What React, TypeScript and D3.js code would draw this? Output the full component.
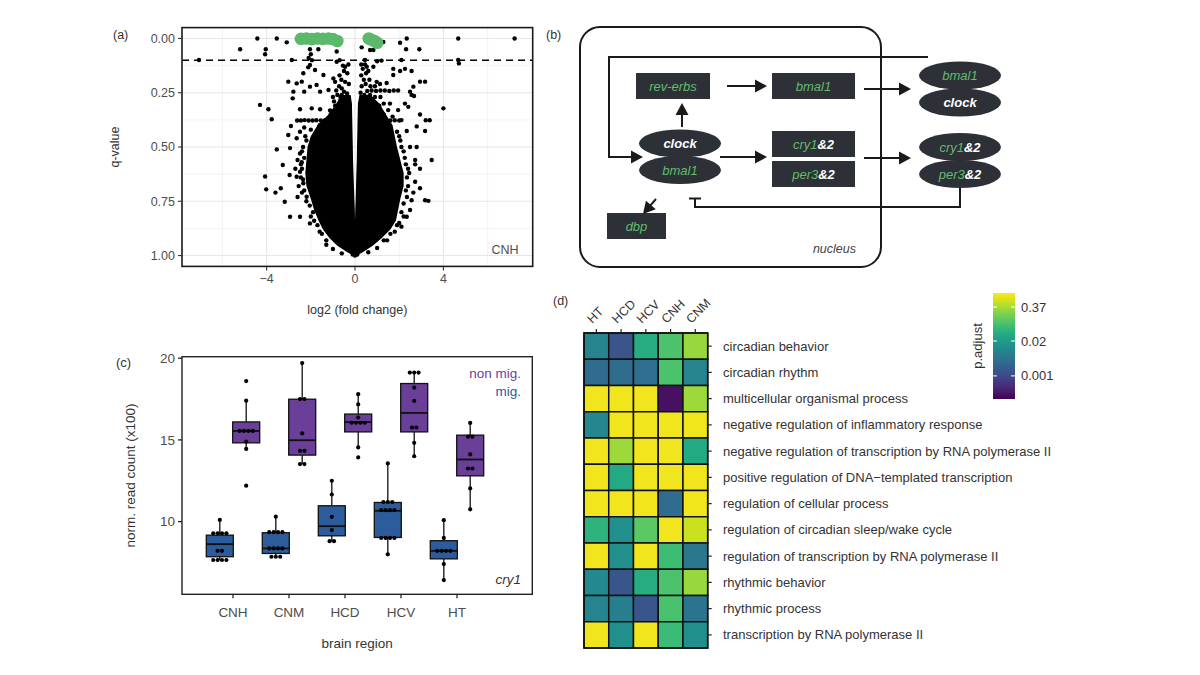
import React from 'react';
import * as d3 from 'd3';

const FONT = '"Liberation Sans", Arial, Helvetica, sans-serif';
const DARK = '#2d3037';
const GREEN_TXT = '#63bb6d';

// ---------------- Panel (a): volcano ----------------
const volcanoXMajor = [-4, 0, 4];
const volcanoXMinor = [-6, -2, 2, 6];
const volcanoYMajor = [0, 0.25, 0.5, 0.75, 1];
const volcanoYMinor = [0.125, 0.375, 0.625, 0.875];
const qThreshold = 0.1;

// significant genes (log2FC, q)
const sigGenes: [number, number][] = [
  [-2.45, 0.002], [-2.2, 0.0], [-1.95, 0.003], [-1.7, 0.0], [-1.45, 0.002], [-1.2, 0.0],
  [-1.0, 0.003], [-0.8, 0.012], [0.62, 0.0], [0.75, 0.006], [0.88, 0.012], [1.0, 0.02],
];

// scattered genes (log2FC, q)
const otherGenes: [number, number][] = [
  [-7.06, 0.099], [-5.2, 0.05], [-4.42, 0.0], [-4.04, 0.05], [-4.07, 0.073], [-3.54, 0.0], [-3.09, 0.018], [-2.86, 0.099],
  [-2.04, 0.05], [-2.0, 0.073], [-1.66, 0.05], [-0.83, 0.06], [-2.1, 0.09], [-2.04, 0.122], [-2.12, 0.133], [-2.34, 0.16],
  [-1.81, 0.145], [-1.43, 0.168], [-0.98, 0.184], [-0.45, 0.13], [-0.83, 0.107], [-1.95, 0.1], [-0.7, 0.1],
  [-3.02, 0.199], [-2.64, 0.207], [-2.41, 0.199], [-2.79, 0.245], [-2.82, 0.276], [-2.3, 0.245], [-2.04, 0.222],
  [-1.74, 0.214], [-1.58, 0.245], [-1.2, 0.237], [-0.66, 0.268], [-0.36, 0.253],
  [-2.49, 0.326], [-1.96, 0.322], [-1.58, 0.326], [-1.13, 0.332], [-0.8, 0.326],
  [-4.3, 0.306], [-3.92, 0.326], [-3.77, 0.372], [-2.9, 0.403], [-3.02, 0.445], [-2.49, 0.43], [-3.54, 0.511],
  [-3.27, 0.583], [-2.96, 0.629], [-4.07, 0.636], [-4.02, 0.695], [-3.6, 0.71], [-3.36, 0.69], [-3.18, 0.752],
  [-2.94, 0.505], [-2.64, 0.46], [-2.49, 0.53], [-2.41, 0.57], [-2.49, 0.614], [-2.64, 0.637], [-2.34, 0.667],
  [-2.19, 0.729], [-2.94, 0.821], [-2.49, 0.821], [-2.04, 0.852],
  [-2.62, 0.378], [-2.45, 0.378], [-2.28, 0.376], [-2.1, 0.378], [-1.92, 0.378], [-1.75, 0.377], [-1.55, 0.378],
  [-1.38, 0.378], [-1.2, 0.376], [-1.02, 0.378],
  [-2.3, 0.41], [-2.0, 0.42], [-1.8, 0.44], [-2.2, 0.47], [-2.35, 0.5], [-2.3, 0.55], [-2.4, 0.6], [-2.35, 0.65],
  [-2.3, 0.7], [-2.05, 0.77], [-1.9, 0.8], [-1.7, 0.86], [-1.5, 0.9], [-1.3, 0.93], [-2.6, 0.56], [-2.7, 0.6],
  [-2.55, 0.68], [-2.6, 0.73], [-1.6, 0.4], [-1.35, 0.42],
  [-2.25, 0.45], [-2.4, 0.52], [-2.45, 0.58], [-2.45, 0.64], [-2.4, 0.71], [-2.2, 0.75], [-2.0, 0.82], [-1.85, 0.84],
  [-1.6, 0.89], [-1.3, 0.95], [-1.0, 0.97], [-0.6, 0.99],
  [0.3, 0.041], [0.68, 0.053], [0.83, 0.053], [1.28, 0.016], [2.04, 0.02], [2.34, 0.0], [2.31, 0.05], [2.91, 0.05],
  [4.67, 0.0], [4.67, 0.099], [4.7, 0.115], [7.22, 0.0], [0.45, 0.099], [1.2, 0.102], [2.1, 0.099], [0.53, 0.13],
  [0.83, 0.13], [1.73, 0.14], [2.04, 0.15], [2.26, 0.14], [2.56, 0.15], [1.73, 0.168], [1.0, 0.105],
  [2.94, 0.199], [3.17, 0.199], [2.64, 0.222], [2.49, 0.245], [2.56, 0.26], [2.67, 0.265], [0.98, 0.2], [1.13, 0.21],
  [1.43, 0.205],
  [0.55, 0.242], [0.75, 0.24], [0.95, 0.242], [1.15, 0.24], [1.35, 0.24], [1.55, 0.242], [1.75, 0.24], [1.95, 0.24],
  [4.0, 0.322], [2.94, 0.35], [3.2, 0.377], [3.38, 0.377], [2.79, 0.405], [3.17, 0.426], [3.47, 0.56], [2.94, 0.6],
  [2.72, 0.58], [2.72, 0.66], [2.94, 0.69], [3.17, 0.745], [3.32, 0.748], [2.56, 0.745], [2.64, 0.71], [2.49, 0.79],
  [2.34, 0.821], [2.1, 0.867], [2.72, 0.56], [2.49, 0.5], [2.79, 0.5], [2.34, 0.426], [2.1, 0.376], [1.95, 0.33],
  [1.58, 0.3], [2.26, 0.3], [2.41, 0.315],
  [0.6, 0.378], [0.8, 0.378], [1.0, 0.376], [1.2, 0.378], [1.4, 0.378], [1.6, 0.378], [1.8, 0.377], [2.0, 0.378],
  [1.9, 0.43], [2.05, 0.47], [2.2, 0.52], [2.3, 0.58], [2.35, 0.64], [2.3, 0.7], [2.2, 0.76], [2.1, 0.8], [1.9, 0.86],
  [1.6, 0.9], [1.3, 0.93], [2.45, 0.62], [2.4, 0.68], [1.5, 0.33], [1.7, 0.36], [1.3, 0.3],
  [2.0, 0.45], [2.1, 0.5], [2.25, 0.55], [2.4, 0.6], [2.35, 0.73], [2.2, 0.82], [2.0, 0.85], [1.8, 0.89], [1.45, 0.93],
  [1.0, 0.965], [0.6, 0.985],
  [-0.5, 0.15], [-0.7, 0.17], [-0.9, 0.2], [-0.45, 0.2], [-0.6, 0.23], [-0.8, 0.26], [-0.35, 0.27], [-0.55, 0.3],
  [-0.75, 0.32], [-0.95, 0.29], [-0.4, 0.33], [-1.1, 0.35], [0.35, 0.14], [0.5, 0.16], [0.4, 0.19], [0.65, 0.19],
  [0.3, 0.22], [0.55, 0.27], [0.8, 0.29], [0.35, 0.3], [0.6, 0.33], [1.0, 0.33], [1.3, 0.35],
  [-0.3, 0.12], [-0.55, 0.125], [-0.35, 0.16], [-0.62, 0.19], [-0.28, 0.21], [-0.5, 0.245], [-0.72, 0.22],
  [-0.85, 0.24], [-0.3, 0.3], [-0.65, 0.28], [-0.9, 0.31], [-0.5, 0.34], [-0.28, 0.36], [-0.7, 0.36], [-1.0, 0.27],
  [-0.42, 0.28], [-0.6, 0.26],
  [0.28, 0.12], [0.45, 0.12], [0.6, 0.15], [0.28, 0.17], [0.48, 0.21], [0.7, 0.22], [0.25, 0.25], [0.42, 0.26],
  [0.68, 0.26], [0.9, 0.27], [0.3, 0.28], [0.5, 0.3], [0.7, 0.31], [0.85, 0.33], [1.1, 0.31], [0.28, 0.33],
  [0.45, 0.35], [1.15, 0.27], [0.9, 0.22],
  [0, 1.0], [-0.1, 0.995], [0.1, 0.995],
];

// envelope of the dense (overplotted) core: q, outer left, gap left, gap right, outer right
const coreQ = [0.26, 0.3, 0.35, 0.4, 0.45, 0.5, 0.56, 0.62, 0.68, 0.74, 0.79, 0.84, 0.88, 0.92, 0.955, 0.985, 1.0];
const coreLeft = [-0.6, -0.85, -1.2, -1.7, -2.0, -2.15, -2.2, -2.25, -2.2, -2.0, -1.85, -1.65, -1.45, -1.15, -0.8, -0.35, -0.08];
const coreGapLeft = [-0.2, -0.14, -0.13, -0.12, -0.11, -0.1, -0.09, -0.07, -0.05, -0.03, -0.01, 0, 0, 0, 0, 0, 0];
const coreGapRight = [0.2, 0.13, 0.12, 0.11, 0.1, 0.09, 0.08, 0.06, 0.045, 0.03, 0.01, 0, 0, 0, 0, 0, 0];
const coreRight = [0.7, 1.1, 1.4, 1.7, 1.8, 1.9, 2.05, 2.2, 2.2, 2.05, 1.95, 1.85, 1.6, 1.2, 0.8, 0.35, 0.08];

function Volcano() {
  const L = 182, R = 532.7, T = 27.6, B = 266.4;
  const x = d3.scaleLinear().domain([-7.83, 8.04]).range([L, R]);
  const y = d3.scaleLinear().domain([-0.05, 1.05]).range([T, B]);
  const idx = d3.range(coreQ.length);
  const leftArea = d3.area<number>().y(i => y(coreQ[i])).x0(i => x(coreLeft[i])).x1(i => x(coreGapLeft[i])).curve(d3.curveLinear);
  const rightArea = d3.area<number>().y(i => y(coreQ[i])).x0(i => x(coreGapRight[i])).x1(i => x(coreRight[i])).curve(d3.curveLinear);
  return (
    <g fontFamily={FONT}>
      <text x={113} y={39} fontSize={12.5} fill="#333">(a)</text>
      <clipPath id="clipA"><rect x={L} y={T} width={R - L} height={B - T} /></clipPath>
      {volcanoXMinor.map(v => <line key={'xm' + v} x1={x(v)} x2={x(v)} y1={T} y2={B} stroke="#ececec" strokeWidth={0.6} />)}
      {volcanoYMinor.map(v => <line key={'ym' + v} x1={L} x2={R} y1={y(v)} y2={y(v)} stroke="#ececec" strokeWidth={0.6} />)}
      {volcanoXMajor.map(v => <line key={'xM' + v} x1={x(v)} x2={x(v)} y1={T} y2={B} stroke="#e6e6e6" strokeWidth={1.1} />)}
      {volcanoYMajor.map(v => <line key={'yM' + v} x1={L} x2={R} y1={y(v)} y2={y(v)} stroke="#e6e6e6" strokeWidth={1.1} />)}
      <g clipPath="url(#clipA)">
        <path d={leftArea(idx) || ''} fill="#000" />
        <path d={rightArea(idx) || ''} fill="#000" />
        {otherGenes.map((d, i) => <circle key={i} cx={x(d[0])} cy={y(d[1])} r={2.2} fill="#000" />)}
        <line x1={L} x2={R} y1={y(qThreshold)} y2={y(qThreshold)} stroke="#000" strokeWidth={1.5} strokeDasharray="7,5" />
        {sigGenes.map((d, i) => <circle key={'g' + i} cx={x(d[0])} cy={y(d[1])} r={6.3} fill="#5cb96b" />)}
      </g>
      <rect x={L} y={T} width={R - L} height={B - T} fill="none" stroke="#1a1a1a" strokeWidth={1.6} />
      {volcanoXMajor.map(v => (
        <g key={'xt' + v}>
          <line x1={x(v)} x2={x(v)} y1={B} y2={B + 4} stroke="#333" strokeWidth={1.1} />
          <text x={x(v)} y={B + 17} textAnchor="middle" fontSize={12.5} fill="#4d4d4d">{v < 0 ? '\u2212' + Math.abs(v) : v}</text>
        </g>
      ))}
      {volcanoYMajor.map(v => (
        <g key={'yt' + v}>
          <line x1={L - 4} x2={L} y1={y(v)} y2={y(v)} stroke="#333" strokeWidth={1.1} />
          <text x={L - 7} y={y(v)} dy="0.35em" textAnchor="end" fontSize={12.5} fill="#4d4d4d">{v.toFixed(2)}</text>
        </g>
      ))}
      <text x={505} y={254} textAnchor="middle" fontSize={12.5} fill="#4d4d4d">CNH</text>
      <text x={(L + R) / 2} y={314} textAnchor="middle" fontSize={12.5} fill="#333">log2 (fold change)</text>
      <text transform={`translate(119,${(T + B) / 2}) rotate(-90)`} textAnchor="middle" fontSize={12.5} fill="#333">q-value</text>
    </g>
  );
}

// ---------------- Panel (b): diagram ----------------
function Arrow({ x1, y1, x2, y2 }: { x1: number; y1: number; x2: number; y2: number }) {
  const dx = x2 - x1, dy = y2 - y1;
  const len = Math.hypot(dx, dy);
  const ux = dx / len, uy = dy / len;
  const hl = 12, hw = 6.5;
  const bx = x2 - ux * hl, by = y2 - uy * hl;
  const px = -uy, py = ux;
  return (
    <g>
      <line x1={x1} y1={y1} x2={bx + ux} y2={by + uy} stroke="#1a1a1a" strokeWidth={2} />
      <polygon points={`${x2},${y2} ${bx + px * hw},${by + py * hw} ${bx - px * hw},${by - py * hw}`} fill="#1a1a1a" />
    </g>
  );
}

function Box({ x, y, w, h, children }: any) {
  return (
    <g>
      <rect x={x} y={y} width={w} height={h} fill={DARK} />
      <text x={x + w / 2} y={y + h / 2} dy="0.36em" textAnchor="middle" fontSize={13} fontStyle="italic">{children}</text>
    </g>
  );
}

function Ell({ cx, cy, children }: any) {
  return (
    <g>
      <ellipse cx={cx} cy={cy} rx={41} ry={14} fill={DARK} />
      <text x={cx} y={cy} dy="0.36em" textAnchor="middle" fontSize={13} fontStyle="italic">{children}</text>
    </g>
  );
}

function Diagram() {
  return (
    <g fontFamily={FONT}>
      <text x={546} y={39} fontSize={12.5} fill="#333">(b)</text>
      <rect x={580} y={27} width={301} height={240} rx={20} fill="none" stroke="#1a1a1a" strokeWidth={2} />
      <path d="M928,57 H609 V157" fill="none" stroke="#1a1a1a" strokeWidth={2} />
      <Arrow x1={608} y1={157} x2={643} y2={157} />
      <Box x={636} y={73} w={74} h={26}><tspan fill={GREEN_TXT}>rev-erbs</tspan></Box>
      <Arrow x1={727} y1={86} x2={767} y2={86} />
      <Box x={772} y={73} w={83} h={26}><tspan fill={GREEN_TXT}>bmal1</tspan></Box>
      <Arrow x1={864} y1={89} x2={911} y2={89} />
      <Ell cx={960} cy={102.5}><tspan fill="#fff" fontWeight="bold">clock</tspan></Ell>
      <Ell cx={960} cy={75.5}><tspan fill={GREEN_TXT}>bmal1</tspan></Ell>
      <Arrow x1={682} y1={127} x2={682} y2={103} />
      <Ell cx={680} cy={170}><tspan fill={GREEN_TXT}>bmal1</tspan></Ell>
      <Ell cx={680} cy={143.5}><tspan fill="#fff" fontWeight="bold">clock</tspan></Ell>
      <Arrow x1={720} y1={157} x2={767} y2={157} />
      <Box x={772} y={131} w={83} h={26}><tspan fill={GREEN_TXT}>cry1</tspan><tspan fill="#fff" fontWeight="bold">&amp;2</tspan></Box>
      <Box x={772} y={161} w={83} h={26}><tspan fill={GREEN_TXT}>per3</tspan><tspan fill="#fff" fontWeight="bold">&amp;2</tspan></Box>
      <Arrow x1={864} y1={158} x2={911} y2={158} />
      <Ell cx={960} cy={174}><tspan fill={GREEN_TXT}>per3</tspan><tspan fill="#fff" fontWeight="bold">&amp;2</tspan></Ell>
      <Ell cx={960} cy={147}><tspan fill={GREEN_TXT}>cry1</tspan><tspan fill="#fff" fontWeight="bold">&amp;2</tspan></Ell>
      <path d="M960,188 V207 H695 V198.5" fill="none" stroke="#1a1a1a" strokeWidth={2} />
      <line x1={689} x2={701} y1={198.5} y2={198.5} stroke="#1a1a1a" strokeWidth={2} />
      <Arrow x1={656} y1={199} x2={643} y2={214} />
      <Box x={607} y={213} w={59} h={26}><tspan fill={GREEN_TXT}>dbp</tspan></Box>
      <text x={856} y={253} textAnchor="end" fontSize={12.5} fontStyle="italic" fill="#444">nucleus</text>
    </g>
  );
}

// ---------------- Panel (c): boxplots ----------------
const regionsC = ['CNH', 'CNM', 'HCD', 'HCV', 'HT'];
const yTicksC = [10, 15, 20];
// box statistics per region: [lower whisker, Q1, median, Q3, upper whisker]
const migStats = [
  [7.65, 7.85, 8.62, 9.17, 10.09],
  [7.81, 8.05, 8.36, 9.32, 10.3],
  [8.81, 9.13, 9.72, 10.97, 12.54],
  [7.99, 9.03, 10.66, 11.17, 13.56],
  [6.42, 7.72, 8.21, 8.83, 10.09],
];
const nonMigStats = [
  [14.45, 14.82, 15.55, 16.1, 17.4],
  [13.52, 14.07, 14.98, 17.49, 19.71],
  [14.54, 15.49, 16.09, 16.58, 17.8],
  [14.0, 15.49, 16.65, 18.45, 19.12],
  [10.75, 12.8, 13.8, 15.29, 16.04],
];
const migPoints = [
  [10.1, 9.28, 9.28, 9.28, 9.28, 8.21, 8.21, 7.65, 7.65, 7.65, 7.65],
  [10.3, 9.35, 9.35, 9.35, 9.35, 8.36, 8.36, 8.36, 8.36, 7.85, 7.85, 7.85],
  [12.5, 11.66, 10.29, 9.48, 8.8, 8.8],
  [13.56, 11.2, 11.2, 11.2, 10.7, 10.7, 10.7, 10.7, 9.0, 9.0, 9.0, 9.0, 8.0],
  [10.09, 9.0, 8.21, 8.21, 8.21, 8.21, 7.4, 6.42],
];
const nonMigPoints = [
  [18.6, 17.4, 15.55, 15.55, 15.55, 15.55, 14.9, 14.45, 12.2],
  [19.7, 17.5, 17.5, 15.4, 14.33, 14.33, 13.52, 13.52],
  [17.8, 17.17, 16.37, 16.05, 16.05, 16.05, 16.05, 14.54, 13.93],
  [19.12, 19.12, 19.12, 18.2, 17.39, 15.76, 15.76, 14.82, 14.0],
  [16.04, 15.2, 15.2, 14.11, 13.25, 13.25, 12.03, 10.75],
];
const PURPLE = '#6a3f98';
const BLUE = '#2c5c9b';

function stackOffsets(vals: number[]) {
  const groups = d3.group(vals.map((v, i) => ({ v, i })), d => d.v);
  const out: { v: number; k: number }[] = [];
  groups.forEach(arr => arr.forEach((d, j) => out.push({ v: d.v, k: j - (arr.length - 1) / 2 })));
  return out;
}

function Boxes() {
  const L = 182, R = 532.3, T = 356.7, B = 594.3;
  const x = d3.scalePoint<string>().domain(regionsC).range([233, 457]);
  const y = d3.scaleLinear().domain([10, 20]).range([521.6, 358.2]);
  const dodge = 13.2, bw = 27;
  const drawGroup = (stats: number[], pts: number[], cx: number, fill: string, key: string) => (
    <g key={key}>
      <line x1={cx} x2={cx} y1={y(stats[0])} y2={y(stats[1])} stroke="#111" strokeWidth={1.3} />
      <line x1={cx} x2={cx} y1={y(stats[3])} y2={y(stats[4])} stroke="#111" strokeWidth={1.3} />
      <rect x={cx - bw / 2} y={y(stats[3])} width={bw} height={y(stats[1]) - y(stats[3])} fill={fill} stroke="#111" strokeWidth={1.3} />
      <line x1={cx - bw / 2} x2={cx + bw / 2} y1={y(stats[2])} y2={y(stats[2])} stroke="#111" strokeWidth={1.8} />
      {stackOffsets(pts).map((p, i) => <circle key={i} cx={cx + p.k * 4.4} cy={y(p.v)} r={2.1} fill="#000" />)}
    </g>
  );
  return (
    <g fontFamily={FONT}>
      <text x={116} y={367} fontSize={13} fill="#333">(c)</text>
      {regionsC.map((r, i) => drawGroup(migStats[i], migPoints[i], (x(r) as number) - dodge, BLUE, 'm' + r))}
      {regionsC.map((r, i) => drawGroup(nonMigStats[i], nonMigPoints[i], (x(r) as number) + dodge, PURPLE, 'n' + r))}
      <rect x={L} y={T} width={R - L} height={B - T} fill="none" stroke="#222" strokeWidth={1.4} />
      {regionsC.map(r => (
        <g key={'xt' + r}>
          <line x1={x(r)} x2={x(r)} y1={B} y2={B + 4} stroke="#222" strokeWidth={1.3} />
          <text x={x(r)} y={B + 23} textAnchor="middle" fontSize={13.5} fill="#4d4d4d">{r}</text>
        </g>
      ))}
      {yTicksC.map(v => (
        <g key={'yt' + v}>
          <line x1={L - 4} x2={L} y1={y(v)} y2={y(v)} stroke="#222" strokeWidth={1.3} />
          <text x={L - 7} y={y(v)} dy="0.35em" textAnchor="end" fontSize={13.5} fill="#4d4d4d">{v}</text>
        </g>
      ))}
      <text x={521} y={378} textAnchor="end" fontSize={13.5} fill={PURPLE}>non mig.</text>
      <text x={521} y={396} textAnchor="end" fontSize={13.5} fill={BLUE}>mig.</text>
      <text x={521} y={584} textAnchor="end" fontSize={13.5} fontStyle="italic" fill="#333">cry1</text>
      <text x={(L + R) / 2} y={648} textAnchor="middle" fontSize={13.5} fill="#333">brain region</text>
      <text transform={`translate(135,${(T + B) / 2}) rotate(-90)`} textAnchor="middle" fontSize={13.5} fill="#333">norm. read count (x100)</text>
    </g>
  );
}

// ---------------- Panel (d): heatmap ----------------
const regionsD = ['HT', 'HCD', 'HCV', 'CNH', 'CNM'];
const goTerms = [
  'circadian behavior',
  'circadian rhythm',
  'multicellular organismal process',
  'negative regulation of inflammatory response',
  'negative regulation of transcription by RNA polymerase II',
  'positive regulation of DNA\u2212templated transcription',
  'regulation of cellular process',
  'regulation of circadian sleep/wake cycle',
  'regulation of transcription by RNA polymerase II',
  'rhythmic behavior',
  'rhythmic process',
  'transcription by RNA polymerase II',
];
// p.adjust per term, columns HT, HCD, HCV, CNH, CNM
const pAdjust = [
  [0.0083, 0.0015, 0.04, 0.095, 0.3],
  [0.0033, 0.0033, 0.0035, 0.095, 0.0083],
  [1, 1, 1, 0.0002, 0.32],
  [0.009, 1, 1, 1, 1],
  [1, 0.32, 1, 1, 0.035],
  [1, 0.035, 1, 1, 1],
  [1, 1, 1, 0.0033, 1],
  [0.05, 0.013, 0.12, 1, 0.6],
  [1, 0.013, 1, 0.07, 0.005],
  [0.01, 0.0016, 0.04, 0.095, 0.3],
  [0.0083, 0.0065, 0.0016, 0.09, 0.0045],
  [1, 0.013, 1, 0.067, 0.013],
];
const legendTicks = [0.001, 0.02, 0.37];

function Heatmap() {
  const L = 584, R = 707.7, T = 333, B = 648;
  const x = d3.scaleBand<string>().domain(regionsD).range([L, R]);
  const y = d3.scaleBand<string>().domain(goTerms).range([T, B]);
  const dom: [number, number] = [1.38e-4, 1.23];
  const color = d3.scaleSequentialLog(d3.interpolateViridis).domain(dom);
  const bx = 993, bw = 22, bt = 293, bb = 399;
  const ly = d3.scaleLog().domain(dom).range([bb, bt]);
  const stops = d3.range(0, 1.0001, 0.05);
  return (
    <g fontFamily={FONT}>
      <text x={553} y={305} fontSize={12.5} fill="#333">(d)</text>
      {goTerms.map((t, i) => regionsD.map((r, j) => (
        <rect key={t + r} x={x(r)} y={y(t)} width={x.bandwidth()} height={y.bandwidth()} fill={color(pAdjust[i][j])} stroke="#111" strokeWidth={1.5} />
      )))}
      <rect x={L} y={T} width={R - L} height={B - T} fill="none" stroke="#111" strokeWidth={1.5} />
      {regionsD.map(r => {
        const cx = (x(r) as number) + x.bandwidth() / 2;
        return (
          <g key={'c' + r}>
            <line x1={cx} x2={cx} y1={T - 4} y2={T} stroke="#222" strokeWidth={1.2} />
            <text transform={`translate(${cx - 4},${T - 9}) rotate(-45)`} fontSize={12.5} fill="#333">{r}</text>
          </g>
        );
      })}
      {goTerms.map(t => {
        const cy = (y(t) as number) + y.bandwidth() / 2;
        return (
          <g key={'r' + t}>
            <line x1={R} x2={R + 4} y1={cy} y2={cy} stroke="#222" strokeWidth={1.2} />
            <text x={723} y={cy} dy="0.35em" fontSize={13} fill="#333">{t}</text>
          </g>
        );
      })}
      <defs>
        <linearGradient id="vir" x1="0" y1="1" x2="0" y2="0">
          {stops.map(s => <stop key={s} offset={s} stopColor={d3.interpolateViridis(s)} />)}
        </linearGradient>
      </defs>
      <rect x={bx} y={bt} width={bw} height={bb - bt} fill="url(#vir)" />
      {legendTicks.map(v => (
        <g key={'l' + v}>
          <line x1={bx} x2={bx + 4} y1={ly(v)} y2={ly(v)} stroke="#fff" strokeWidth={1} />
          <line x1={bx + bw - 4} x2={bx + bw} y1={ly(v)} y2={ly(v)} stroke="#fff" strokeWidth={1} />
          <text x={bx + bw + 6} y={ly(v)} dy="0.35em" fontSize={13} fill="#333">{String(v)}</text>
        </g>
      ))}
      <text transform={`translate(982,346) rotate(-90)`} textAnchor="middle" fontSize={13} fill="#333">p.adjust</text>
    </g>
  );
}

export default function App() {
  return (
    <svg width={1200} height={675} viewBox="0 0 1200 675" style={{ position: 'absolute', left: 0, top: 0, background: '#fff' }}>
      <rect width={1200} height={675} fill="#fff" />
      <Volcano />
      <Diagram />
      <Boxes />
      <Heatmap />
    </svg>
  );
}
